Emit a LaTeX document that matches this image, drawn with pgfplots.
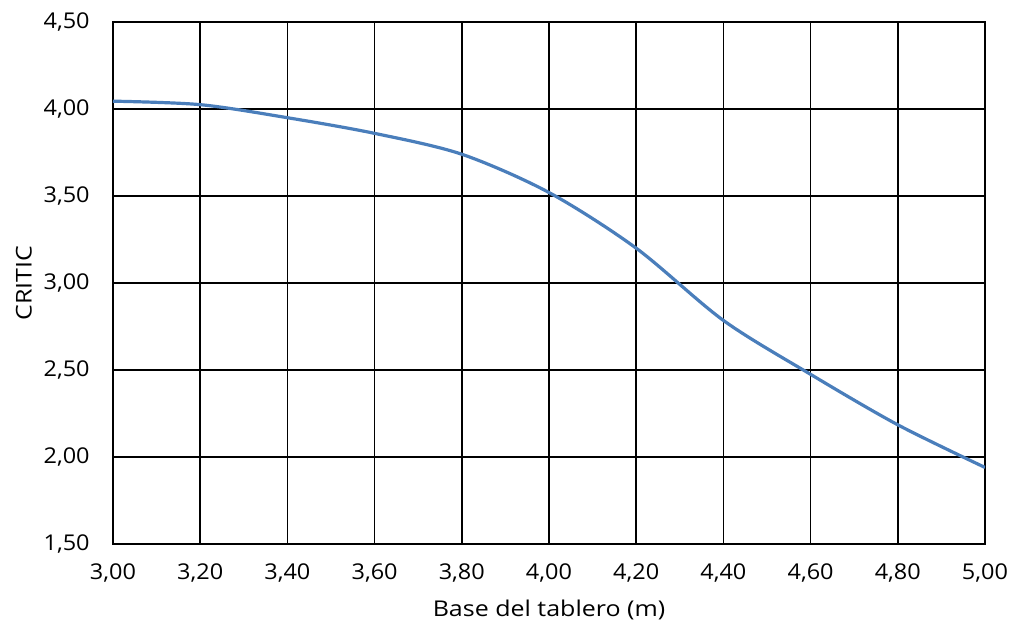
\documentclass[border=0pt]{standalone}
\usepackage{pgfplots}
\pgfplotsset{compat=1.18}
\usepackage{fontspec}
\setmainfont{Open Sans}[FakeStretch=1.08]
\newfontfamily\labfont{Open Sans}[FakeStretch=1.15]
\definecolor{lineblue}{HTML}{4A7EBB}
\begin{document}
\begin{tikzpicture}
\begin{axis}[
  scale only axis,
  width=654pt, height=391.5pt,
  xmin=3, xmax=5, ymin=1.5, ymax=4.5,
  xtick={3,3.2,...,5.01}, ytick={1.5,2,...,4.51},
  grid=major,
  major grid style={black, line width=1.3pt},
  axis line style={black, line width=1.3pt},
  tick style={draw=none},
  /pgf/number format/assume math mode=true,
  /pgf/number format/.cd, fixed, fixed zerofill, precision=2, use comma,
  /pgfplots/.cd,
  tick label style={font=\fontsize{16.3}{19}\selectfont},
  label style={font=\labfont\fontsize{16.3}{19}\selectfont},
  xticklabel style={yshift=-11pt},
  yticklabel style={xshift=-14pt},
  xlabel={Base del tablero (m)},
  ylabel={CRITIC},
  xlabel style={yshift=-7pt},
  ylabel style={yshift=2pt},
]
\addplot[lineblue, line width=2.4pt, smooth, tension=0.5] coordinates {
(3.00,4.045) (3.20,4.025) (3.40,3.95) (3.60,3.86) (3.80,3.74)
(4.00,3.52) (4.20,3.20) (4.40,2.785) (4.60,2.475) (4.80,2.185) (5.00,1.94)
};
\end{axis}
\pgfresetboundingbox
\path[use as bounding box] (-84.75pt,-66.75pt) rectangle (673.5pt,408pt);
\end{tikzpicture}
\end{document}
